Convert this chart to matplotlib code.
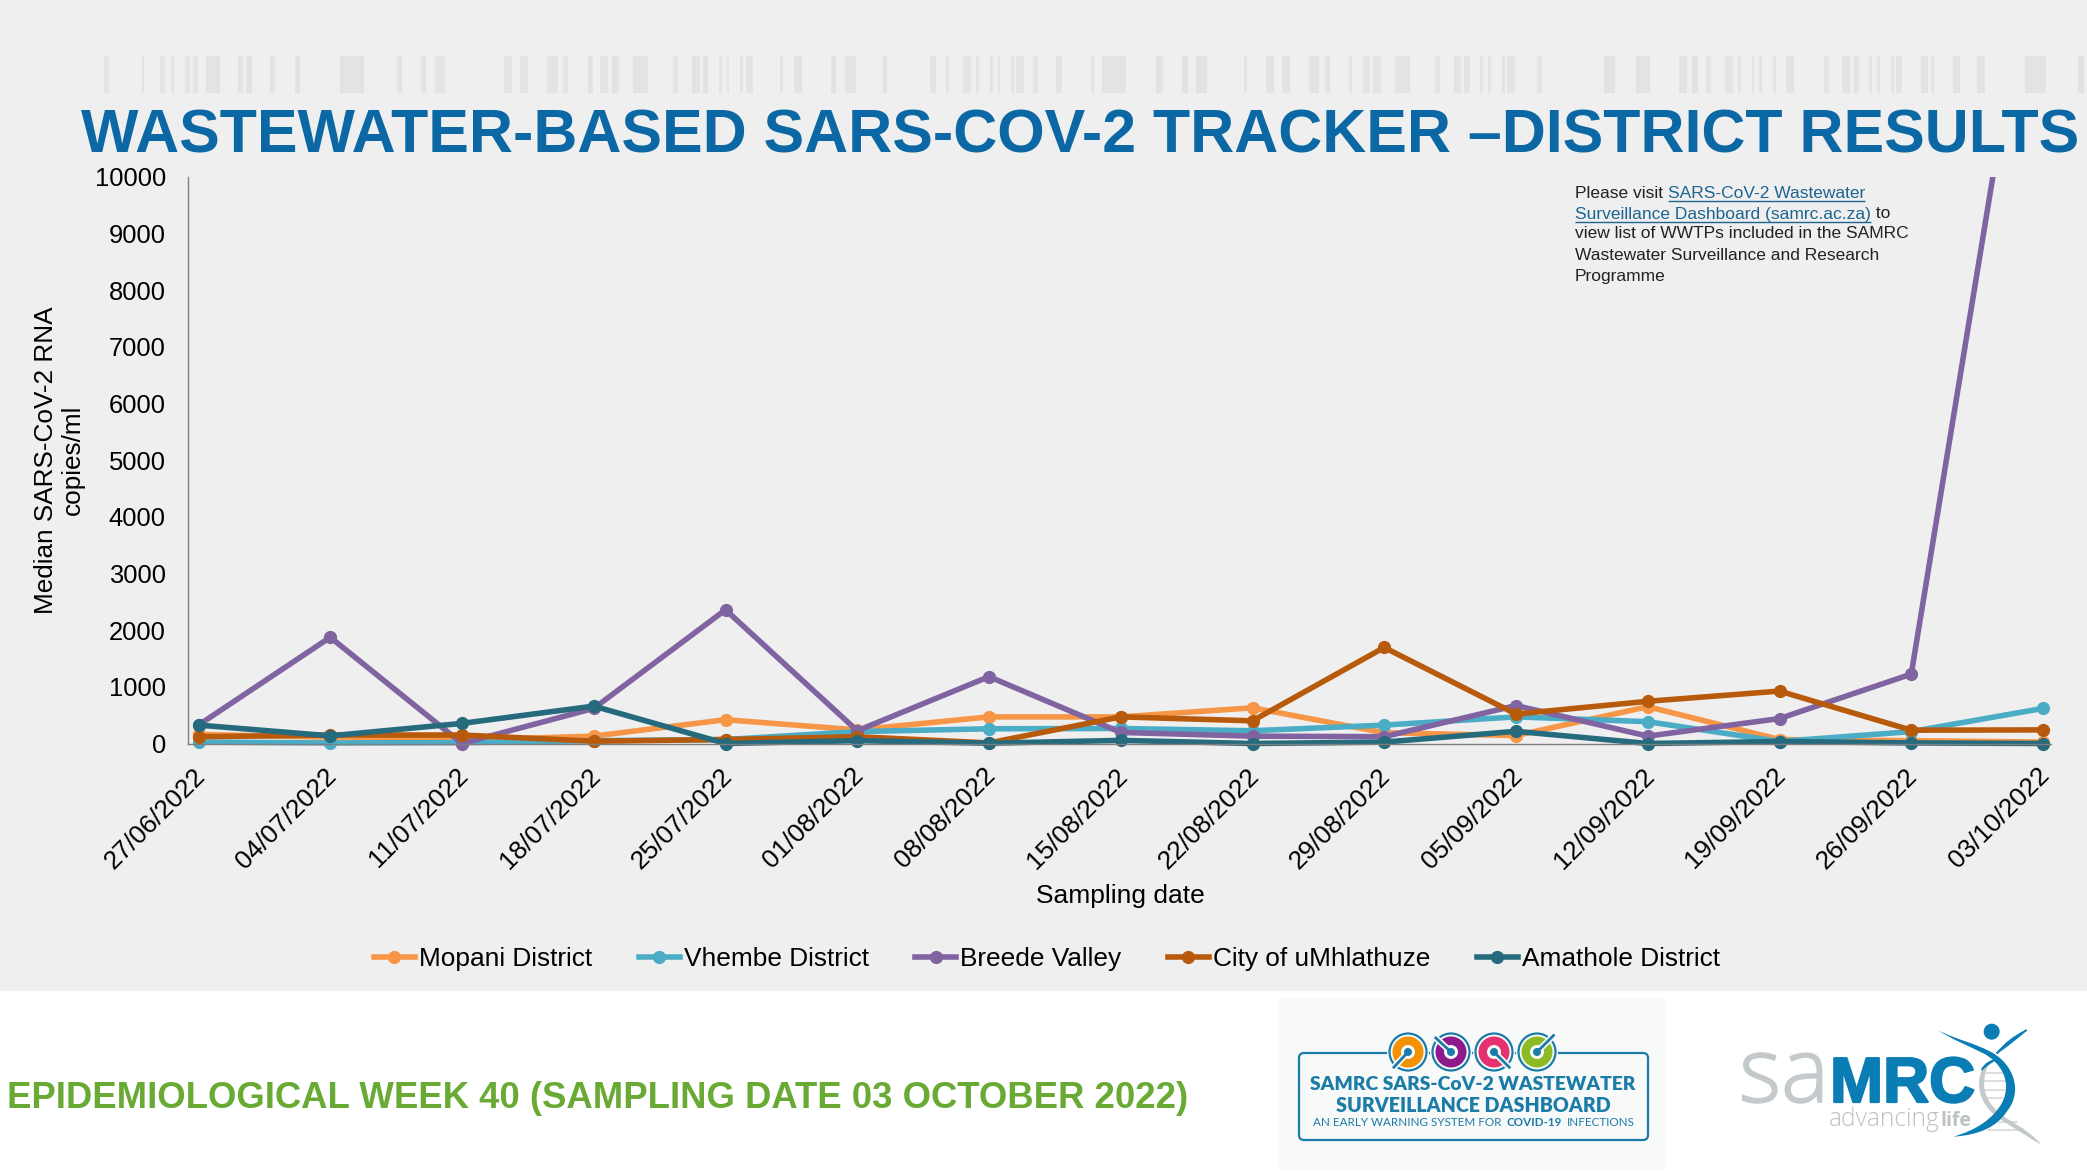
import matplotlib
matplotlib.use("Agg")
import matplotlib.pyplot as plt
import matplotlib.patheffects as pe
from matplotlib.patches import Rectangle, FancyBboxPatch, Circle, PathPatch
from matplotlib.path import Path
from matplotlib.transforms import ScaledTranslation

plt.rcParams['font.family'] = ['Liberation Sans', 'DejaVu Sans']

dates = ["27/06/2022", "04/07/2022", "11/07/2022", "18/07/2022", "25/07/2022",
         "01/08/2022", "08/08/2022", "15/08/2022", "22/08/2022", "29/08/2022",
         "05/09/2022", "12/09/2022", "19/09/2022", "26/09/2022", "03/10/2022"]
mopani = [160, 110, 60, 130, 420, 240, 470, 470, 630, 190, 140, 650, 70, 50, 25]
vhembe = [25, 10, 15, 50, 70, 210, 260, 265, 225, 325, 470, 385, 35, 210, 620]
breede = [325, 1875, 0, 620, 2360, 225, 1180, 195, 130, 120, 670, 130, 440, 1225, 15400]
umhlathuze = [118, 150, 150, 40, 70, 120, 10, 470, 400, 1695, 520, 745, 925, 235, 240]
amathole = [325, 135, 355, 660, 0, 50, 5, 55, 0, 25, 215, 0, 35, 10, 0]
series_names = ["Mopani District", "Vhembe District", "Breede Valley",
                "City of uMhlathuze", "Amathole District"]
series_values = [mopani, vhembe, breede, umhlathuze, amathole]
series_colors = ["#F79646", "#4BACC6", "#8064A2", "#B85A0B", "#256B7D"]
y_ticks = list(range(0, 10001, 1000))

bar_left = [(38,46),(97,101),(126,134),(143,147),(165,172),(177,185),(198,219),(248,256),(261,269),
            (298,306),(337,345),(408,446),(497,505),(534,543),(556,572),(665,677),(690,702),(732,749),
            (757,765),(796,804),(816,828),(834,845),(867,891),(930,938),(960,972),(977,985),(1002,1006),
            (1014,1018),(1035,1039),(1044,1056),(1098,1102),(1120,1132),(1178,1186),(1200,1216),
            (1259,1266),(1333,1342),(1358,1363),(1385,1397),(1405,1409),(1427,1431),(1439,1443),
            (1460,1464),(1468,1480),(1494,1502),(1531,1539)]
bar_right = [(0,3),(48,52),(64,101),(147,158),(187,195),(208,224),(281,286),(315,327),(339,351),
             (380,396),(405,413),(442,446),(462,474),(478,490),(511,535),(573,581),(602,613),(617,626),
             (642,646),(654,658),(675,679),(683,695),(728,736),(831,848),(879,901),(945,957),(965,974),
             (986,994),(1015,1027),(1035,1040),(1056,1060),(1068,1072),(1089,1093),(1109,1121),
             (1166,1174),(1194,1207),(1212,1220),(1236,1240),(1248,1252),(1269,1273),(1277,1285),
             (1314,1326),(1330,1334),(1363,1375),(1400,1412),(1474,1506),(1555,1564)]

W, H = 2087, 1174
fig = plt.figure(figsize=(W/100, H/100), dpi=100, facecolor="white")

# pixel-coordinate layer for the slide furniture
bg = fig.add_axes([0, 0, 1, 1], zorder=-1)
bg.set_xlim(0, W); bg.set_ylim(H, 0); bg.axis("off")
bg.add_patch(Rectangle((0, 0), W, 991, fc="#EFEFEF", ec="none"))
for a, b in bar_left:
    bg.add_patch(Rectangle((80 + a/1.568, 56), (b-a)/1.568, 37, fc="#E3E3E3", ec="none"))
for a, b in bar_right:
    bg.add_patch(Rectangle((1060 + a/1.527, 56), (b-a)/1.527, 37, fc="#E3E3E3", ec="none"))

renderer = fig.canvas.get_renderer()
def fit(t, width):
    t.set_fontsize(t.get_fontsize() * width / t.get_window_extent(renderer).width)
    return t

fit(bg.text(81, 137, "WASTEWATER-BASED SARS-COV-2 TRACKER –DISTRICT RESULTS", fontsize=46,
            fontweight="bold", color="#0B68A4", ha="left", va="center"), 1997)
fit(bg.text(7, 1099, "EPIDEMIOLOGICAL WEEK 40 (SAMPLING DATE 03 OCTOBER 2022)", fontsize=27,
            fontweight="bold", color="#69AA35", ha="left", va="center"), 1180)

# chart
L, R, T, B = 188, 2051, 177, 743.5
ax = fig.add_axes([L/W, 1-B/H, (R-L)/W, (B-T)/H], zorder=1)
ax.patch.set_visible(False)
step = 131.75
ax.set_xlim((L-198.5)/step, (R-198.5)/step)
ax.set_ylim(0, 10000)
clip = Rectangle((0, T), W, 700, transform=bg.transData)
xs = list(range(len(dates)))
for name, vals, col in zip(series_names, series_values, series_colors):
    ln, = ax.plot(xs, vals, color=col, lw=4, marker="o", ms=8.5, label=name,
                  solid_joinstyle="round")
    ln.set_clip_path(clip)
for s in ("top", "right"):
    ax.spines[s].set_visible(False)
for s in ("left", "bottom"):
    ax.spines[s].set_color("#7F7F7F")
    ax.spines[s].set_linewidth(1)
ax.set_yticks(y_ticks)
ax.tick_params(axis="y", length=0, pad=16, labelsize=18.4)
ax.set_xticks(xs)
ax.set_xticklabels(dates, rotation=45, ha="right", va="center", rotation_mode="anchor", fontsize=18.8)
ax.tick_params(axis="x", length=0, pad=20.5)
off = ScaledTranslation(0.025, 0, fig.dpi_scale_trans)
for lab in ax.get_xticklabels():
    lab.set_transform(lab.get_transform() + off)

bg.text(59, 460, "Median SARS-CoV-2 RNA\ncopies/ml", rotation=90, ha="center", va="center",
        fontsize=18.8, linespacing=1.15, multialignment="center")
bg.text(1120, 896, "Sampling date", ha="center", va="center", fontsize=19)
fig.legend(loc="center", bbox_to_anchor=(1047/W, 1-959/H), ncol=5, frameon=False, fontsize=18.9,
           handlelength=1.56, handletextpad=0.16, columnspacing=1.77, borderpad=0, borderaxespad=0)

# note with link text
LINK = "#1F6391"
note_x, note_fs = 1575, 12.55
def note(x, y, s, color="#222222", underline=False):
    t = bg.text(x, y, s, fontsize=note_fs, color=color, ha="left", va="center")
    e = t.get_window_extent(renderer)
    if underline:
        bg.plot([e.x0, e.x1], [y+8, y+8], color=color, lw=1, solid_capstyle="butt")
    return e.x1
x1 = note(note_x, 193, "Please visit ")
note(x1, 193, "SARS-CoV-2 Wastewater", LINK, True)
x1 = note(note_x, 214, "Surveillance Dashboard (samrc.ac.za)", LINK, True)
note(x1, 214, " to")
note(note_x, 234, "view list of WWTPs included in the SAMRC")
note(note_x, 255, "Wastewater Surveillance and Research")
note(note_x, 276, "Programme")

# dashboard logo
BL = "#1B7CA8"
PANEL = "#F8F9F9"
bg.add_patch(Rectangle((1279, 998), 387, 171, fc=PANEL, ec="none"))
bg.add_patch(FancyBboxPatch((1302, 1056), 343, 81, boxstyle="round,pad=3,rounding_size=5",
                            fc="none", ec=BL, lw=1.6))
gauge_x = [1408, 1451, 1494, 1537]
gauge_col = ["#F39200", "#8E1B8C", "#E5316F", "#8DBB25"]
gauge_dir = [(-12, 13), (-13, -12), (13, 13), (14, -14)]
for cx, col, (dx, dy) in zip(gauge_x, gauge_col, gauge_dir):
    cy = 1052
    bg.add_patch(Circle((cx, cy), 21, fc=PANEL, ec="none", zorder=3))
    bg.add_patch(Circle((cx, cy), 18.5, fc=PANEL, ec=BL, lw=1.6, zorder=3))
    bg.add_patch(Circle((cx, cy), 15.5, fc=col, ec="none", zorder=3))
    bg.add_patch(Circle((cx, cy), 7, fc=PANEL, ec="none", zorder=4))
    bg.plot([cx, cx+dx*1.25], [cy, cy+dy*1.25], color=PANEL, lw=4.5, zorder=4, solid_capstyle="butt")
    bg.plot([cx, cx+dx*1.25], [cy, cy+dy*1.25], color=BL, lw=2, zorder=5, solid_capstyle="butt")
    bg.add_patch(Circle((cx, cy), 4, fc=BL, ec="none", zorder=5))
fit(bg.text(1473, 1085, "SAMRC SARS-CoV-2 WASTEWATER", fontsize=15, fontweight="heavy", color=BL,
            family="Lato", ha="center", va="center", zorder=4), 327)
fit(bg.text(1473, 1105, "SURVEILLANCE DASHBOARD", fontsize=15, fontweight="heavy", color=BL,
            family="Lato", ha="center", va="center", zorder=4), 275)
small = 8.4
t1 = bg.text(1313, 1123, "AN EARLY WARNING SYSTEM FOR", fontsize=small, color=BL, family="Lato",
             ha="left", va="center", zorder=4)
e = t1.get_window_extent(renderer)
t2 = bg.text(e.x1+5, 1123, "COVID-19", fontsize=small, fontweight="bold", color=BL, family="Lato",
             ha="left", va="center", zorder=4)
e = t2.get_window_extent(renderer)
bg.text(e.x1+5, 1123, "INFECTIONS", fontsize=small, color=BL, family="Lato", ha="left", va="center", zorder=4)

# SAMRC logo
G = "#C4C9CC"
MB = "#0A7DB5"
sa = fit(bg.text(1739, 1102, "sa", fontsize=60, color=G, ha="left", va="baseline", family="Open Sans",
                 fontweight="light"), 90)
sa.set_path_effects([pe.withStroke(linewidth=1.2, foreground=G)])
mrc = fit(bg.text(1830, 1102, "MRC", fontsize=46, color=MB, fontweight="bold", ha="left", va="baseline"), 145)
mrc.set_path_effects([pe.withStroke(linewidth=1.6, foreground=MB)])
t = fit(bg.text(1829, 1126, "advancing", fontsize=20, color="#BCC1C4", ha="left", va="baseline",
                family="Open Sans", fontweight="light"), 111)
fit(bg.text(1941, 1126, "life", fontsize=20, color="#BCC1C4", fontweight="bold", ha="left", va="baseline",
            family="Open Sans"), 31)

def z(x, y):
    return (1730 + x/3, 1015 + y/3)
def shape(start, segs, fc, ec="none", lw=0):
    verts = [z(*start)]
    codes = [Path.MOVETO]
    for seg in segs:
        for p in seg:
            verts.append(z(*p))
            codes.append(Path.CURVE4)
    bg.add_patch(PathPatch(Path(verts, codes), fc=fc, ec=ec, lw=lw, zorder=3))

# DNA ribs
for x0, x1_, y in [(770, 815, 175), (765, 825, 198), (765, 825, 225), (775, 815, 250),
                   (805, 860, 322), (775, 880, 345)]:
    bg.plot(*zip(z(x0, y), z(x1_, y)), color="#D5D8DA", lw=1.2, zorder=2)
# grey strand
shape((765, 150), [[(735, 190), (740, 260), (800, 305)], [(860, 345), (900, 370), (935, 390)],
                   [(910, 360), (880, 340), (830, 310)], [(770, 270), (745, 220), (775, 150)]], G)
# blue body
shape((622, 45), [[(680, 75), (740, 85), (790, 115)], [(850, 150), (880, 230), (830, 290)],
                  [(800, 335), (750, 360), (670, 365)], [(740, 345), (790, 310), (815, 265)],
                  [(850, 200), (810, 140), (760, 115)], [(720, 95), (670, 75), (622, 45)]], MB)
shape((890, 45), [[(850, 65), (825, 85), (800, 115)], [(830, 95), (860, 70), (890, 45)]], MB, ec=MB, lw=1)
shape((755, 165), [[(765, 145), (780, 138), (795, 135)], [(780, 145), (770, 150), (755, 165)]], MB, ec=MB, lw=1)
bg.add_patch(Circle(z(785, 50), 8, fc=MB, ec="none", zorder=3))

fig.savefig("out.png", dpi=100, facecolor="white")
